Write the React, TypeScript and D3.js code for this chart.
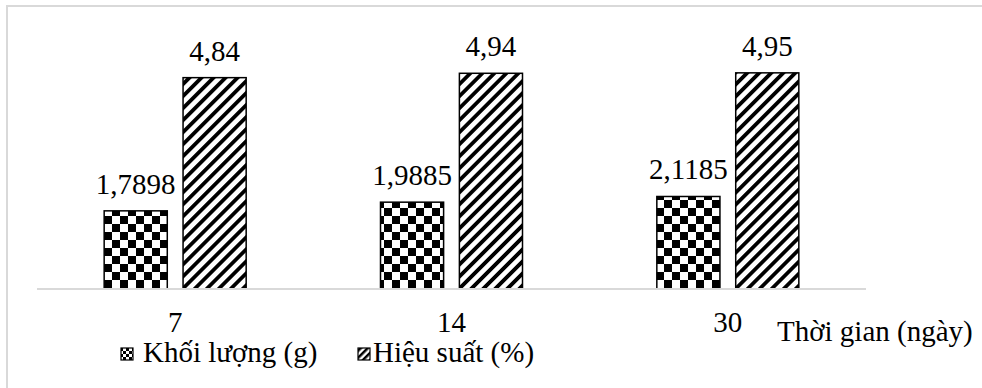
import React, { useEffect, useRef } from "react";
import * as d3 from "d3";

const categories = ["7", "14", "30"];
const seriesNames = ["Khối lượng (g)", "Hiệu suất (%)"];
const massValues = [1.7898, 1.9885, 2.1185];
const efficiencyValues = [4.84, 4.94, 4.95];
const massLabels = ["1,7898", "1,9885", "2,1185"];
const efficiencyLabels = ["4,84", "4,94", "4,95"];
const axisTitle = "Thời gian (ngày)";

const W = 982;
const H = 388;
const F = "'Liberation Serif', 'Times New Roman', Tinos, serif";

export default function App() {
  const ref = useRef<SVGSVGElement>(null);

  useEffect(() => {
    document.body.style.margin = "0";
    const svg = d3.select(ref.current);
    svg.selectAll("*").remove();

    const defs = svg.append("defs");
    const checker = defs.append("pattern").attr("id", "checker").attr("width", 16).attr("height", 16).attr("patternUnits", "userSpaceOnUse");
    checker.append("rect").attr("width", 16).attr("height", 16).attr("fill", "#fff");
    checker.append("rect").attr("width", 8).attr("height", 8).attr("fill", "#000");
    checker.append("rect").attr("x", 8).attr("y", 8).attr("width", 8).attr("height", 8).attr("fill", "#000");
    const hatch = defs.append("pattern").attr("id", "hatch").attr("width", 8.5).attr("height", 8.5).attr("patternUnits", "userSpaceOnUse").attr("patternTransform", "rotate(45)");
    hatch.append("rect").attr("width", 8.5).attr("height", 8.5).attr("fill", "#fff");
    hatch.append("rect").attr("width", 3.8).attr("height", 8.5).attr("fill", "#000");
    const cs = defs.append("pattern").attr("id", "checkerSmall").attr("width", 6).attr("height", 6).attr("patternUnits", "userSpaceOnUse");
    cs.append("rect").attr("width", 6).attr("height", 6).attr("fill", "#fff");
    cs.append("rect").attr("width", 3).attr("height", 3).attr("fill", "#000");
    cs.append("rect").attr("x", 3).attr("y", 3).attr("width", 3).attr("height", 3).attr("fill", "#000");
    const hs = defs.append("pattern").attr("id", "hatchSmall").attr("width", 5).attr("height", 5).attr("patternUnits", "userSpaceOnUse").attr("patternTransform", "rotate(45)");
    hs.append("rect").attr("width", 5).attr("height", 5).attr("fill", "#fff");
    hs.append("rect").attr("width", 2.5).attr("height", 5).attr("fill", "#000");

    svg.append("rect").attr("width", W).attr("height", H).attr("fill", "#fff");
    svg.append("rect").attr("x", 7).attr("y", 6).attr("width", W + 20).attr("height", H + 20)
      .attr("fill", "none").attr("stroke", "#d9d9d9").attr("stroke-width", 2);

    const x = d3.scaleBand<string>().domain(categories).range([37, 866]).padding(0);
    const y = d3.scaleLinear().domain([0, 6]).range([289, 27]);
    const groupW = 142;

    const series = [
      { name: seriesNames[0], values: massValues, labels: massLabels, fill: "url(#checker)" },
      { name: seriesNames[1], values: efficiencyValues, labels: efficiencyLabels, fill: "url(#hatch)" },
    ];

    const addText = (tx: number, ty: number, str: string, anchor = "start") =>
      svg.append("text").attr("x", tx).attr("y", ty).attr("text-anchor", anchor)
        .attr("font-family", F).style("font-family", F).attr("font-size", 29).attr("fill", "#000").text(str);

    categories.forEach((c, i) => {
      const cx = x(c)! + x.bandwidth() / 2;
      const inner = d3.scaleBand<string>().domain(seriesNames).range([cx - groupW / 2, cx + groupW / 2]).paddingInner(0.2).paddingOuter(0);
      series.forEach((s) => {
        const bx = inner(s.name)!;
        const bw = inner.bandwidth();
        const top = y(s.values[i]);
        svg.append("rect").attr("x", bx).attr("y", top).attr("width", bw).attr("height", y(0) - top)
          .attr("fill", s.fill).attr("stroke", "#000").attr("stroke-width", 1.5);
        addText(bx + bw / 2, top - 17, s.labels[i], "middle");
      });
    });

    svg.append("line").attr("x1", 37).attr("x2", 866).attr("y1", 289).attr("y2", 289)
      .attr("stroke", "#d9d9d9").attr("stroke-width", 2);

    categories.forEach((c) => addText(x(c)! + x.bandwidth() / 2, 332, c, "middle"));
    addText(777, 341, axisTitle);

    svg.append("rect").attr("x", 121).attr("y", 348).attr("width", 12).attr("height", 12)
      .attr("fill", "url(#checkerSmall)").attr("stroke", "#000").attr("stroke-width", 1.2);
    addText(143, 362, seriesNames[0]);
    svg.append("rect").attr("x", 358).attr("y", 348).attr("width", 12).attr("height", 12)
      .attr("fill", "url(#hatchSmall)").attr("stroke", "#000").attr("stroke-width", 1.2);
    addText(373, 362, seriesNames[1]);
  }, []);

  return <svg ref={ref} width={W} height={H} style={{ display: "block" }} />;
}
